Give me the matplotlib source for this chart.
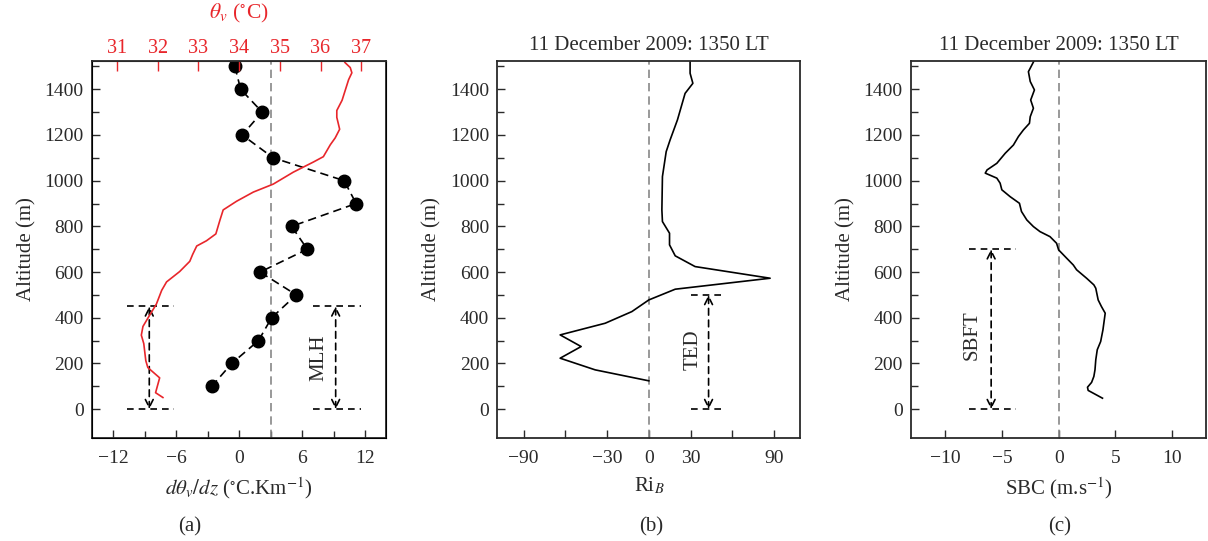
import numpy as np
import matplotlib
matplotlib.use("Agg")
import matplotlib.pyplot as plt

plt.rcParams['font.family'] = ['Liberation Serif', 'DejaVu Serif']
plt.rcParams['mathtext.fontset'] = 'stix'
plt.rcParams['font.size'] = 14

# --- panel (a): gradient of virtual potential temperature (dots) and theta_v (red)
grad_alt = [1500, 1400, 1300, 1200, 1100, 1000, 900, 800, 700, 600, 500, 400, 300, 200, 100]
grad_val = [-0.4, 0.15, 2.2, 0.3, 3.25, 10.0, 11.15, 5.0, 6.5, 2.0, 5.45, 3.1, 1.85, -0.7, -2.6]

theta_alt = [51, 72, 137, 182, 212, 287, 324, 362, 407, 460, 520, 557, 602, 647, 677, 714,
             737, 767, 827, 872, 910, 950, 985, 1037, 1082, 1105, 1157, 1187, 1225, 1277,
             1307, 1352, 1397, 1442, 1472, 1495, 1517]
theta_val = [32.13, 31.95, 32.05, 31.76, 31.71, 31.66, 31.60, 31.64, 31.79, 31.97, 32.10,
             32.22, 32.54, 32.79, 32.86, 32.96, 33.20, 33.43, 33.53, 33.61, 33.94, 34.35,
             34.84, 35.33, 35.83, 36.07, 36.24, 36.36, 36.47, 36.40, 36.40, 36.53, 36.61,
             36.69, 36.77, 36.73, 36.60]

# --- panel (b): bulk Richardson number
ri_alt = [124, 172, 223, 274, 325, 376, 427, 478, 525, 573, 624, 671, 719, 770, 821, 872,
          1018, 1127, 1178, 1266, 1382, 1426, 1470, 1521]
ri_val = [0, -38.6, -63.8, -48.7, -63.8, -31.4, -12.2, 0, 19, 87.3, 33.3, 19, 14.9, 14.9,
          9.8, 9.4, 9.8, 12.5, 15.3, 20.6, 26.1, 31.7, 29.7, 29.7]

# --- panel (c): sea breeze component
sbc_alt = [48, 82, 96, 117, 143, 172, 216, 260, 296, 347, 420, 449, 478, 529, 544, 573,
           610, 631, 661, 697, 726, 755, 777, 799, 828, 865, 901, 930, 960, 989, 1011,
           1033, 1047, 1076, 1120, 1156, 1193, 1222, 1251, 1280, 1317, 1353, 1397, 1434,
           1477, 1521]
sbc_val = [3.86, 2.6, 2.54, 2.9, 3.1, 3.2, 3.27, 3.4, 3.7, 3.9, 4.1, 3.77, 3.48, 3.27, 3.1,
           2.46, 1.58, 1.29, 0.7, 0.0, -0.18, -0.76, -1.64, -2.22, -2.8, -3.27, -3.45,
           -4.27, -5.0, -5.15, -5.44, -6.46, -6.3, -5.44, -4.7, -3.98, -3.54, -3.1, -2.57,
           -2.5, -2.22, -2.46, -2.13, -2.5, -2.66, -2.2]

title = "11 December 2009: 1350 LT"
ink = '#2a2a2a'
red = '#e8262b'

fig = plt.figure(figsize=(12.08, 5.41), dpi=100)
ax_a = fig.add_axes([0.0762, 0.1909, 0.2434, 0.6969])
ax_b = fig.add_axes([0.4117, 0.1909, 0.2508, 0.6969])
ax_c = fig.add_axes([0.7541, 0.1909, 0.2445, 0.6969])


def style(ax):
    ax.set_ylim(-125, 1525)
    ax.set_yticks(np.arange(0, 1401, 200))
    ax.set_yticks(np.arange(100, 1501, 200), minor=True)
    ax.tick_params(direction='in', length=6, width=1, colors=ink, labelsize=14, pad=6)
    ax.tick_params(axis='x', pad=9)
    ax.tick_params(which='minor', direction='in', length=5, width=1, colors=ink)
    ax.tick_params(axis='y', right=False)
    for s in ax.spines.values():
        s.set_color(ink)
        s.set_linewidth(1.3)
    ax.set_ylabel('Altitude (m)', fontsize=15, color=ink, labelpad=6)


def span(ax, x0, x1, xa, top, text, tx, ty):
    for y in (0, top):
        ax.plot([x0, x1], [y, y], color='k', ls=(0, (4, 3)), lw=1.2)
    ax.annotate('', xy=(xa, 0), xytext=(xa, top),
                arrowprops=dict(arrowstyle='<->', color='k', ls=(0, (4, 3)), lw=1.2,
                                shrinkA=0, shrinkB=0))
    ax.text(tx, ty, text, rotation=90, ha='center', va='center', fontsize=15, color=ink)


# (a)
style(ax_a)
ax_a.set_xlim(-14, 14)
ax_a.set_xticks([-12, -6, 0, 6, 12])
ax_a.set_xticks([-9, -3, 3, 9], minor=True)
ax_a.set_xticklabels(['\u221212', '\u22126', '0', '6', '12'])
ax_a.axvline(3, color='#888888', ls=(0, (5, 3)), lw=1.2)
ax_a.plot(grad_val, grad_alt, color='k', ls=(0, (5, 3)), lw=1.2,
          marker='o', ms=9, mfc='k', mec='k')
ax_a.set_xlabel(r'$d\theta_v/dz$ ($^{\circ}$C.Km$^{-1}$)', fontsize=15, color=ink, labelpad=6)
span(ax_a, -10.7, -6.2, -8.55, 450, '', 0, 0)
span(ax_a, 7.0, 11.6, 9.2, 450, 'MLH', 7.6, 225)

ax_t = ax_a.twiny()
ax_t.set_xlim(30.39, 37.61)
ax_t.plot(theta_val, theta_alt, color=red, lw=1.2)
ax_t.set_xticks(np.arange(31, 38, 1))
ax_t.tick_params(direction='in', length=7, width=1, colors=red, labelsize=14.5, pad=2)
ax_t.spines['top'].set_color(ink)
ax_t.set_xlabel(r'$\theta_v$ ($^{\circ}$C)', fontsize=15.5, color=red, labelpad=15)

# (b)
style(ax_b)
ax_b.set_xlim(-109, 109)
ax_b.set_xticks(np.arange(-90, 91, 30))
ax_b.set_xticklabels(['\u221290', '', '\u221230', '0', '30', '', '90'])
ax_b.axvline(0, color='#888888', ls=(0, (5, 3)), lw=1.2)
ax_b.plot(ri_val, ri_alt, color='k', lw=1.2)
ax_b.set_xlabel(r'Ri$_B$', fontsize=15, color=ink, labelpad=6)
ax_b.set_title(title, fontsize=15, color=ink, pad=8)
span(ax_b, 30.5, 55, 43, 500, 'TED', 32, 260)

# (c)
style(ax_c)
ax_c.set_xlim(-13, 13)
ax_c.set_xticks([-10, -5, 0, 5, 10])
ax_c.set_xticklabels(['\u221210', '\u22125', '0', '5', '10'])
ax_c.axvline(0, color='#888888', ls=(0, (5, 3)), lw=1.2)
ax_c.plot(sbc_val, sbc_alt, color='k', lw=1.2)
ax_c.set_xlabel(r'SBC (m.s$^{-1}$)', fontsize=15, color=ink, labelpad=6)
ax_c.set_title(title, fontsize=15, color=ink, pad=8)
span(ax_c, -7.9, -3.74, -5.94, 700, 'SBFT', -7.6, 325)

for lab, x in (('(a)', 0.157), ('(b)', 0.539), ('(c)', 0.877)):
    fig.text(x, 0.026, lab, ha='center', va='center', fontsize=15, color=ink)

fig.savefig('out.png', dpi=100)
plt.close(fig)
